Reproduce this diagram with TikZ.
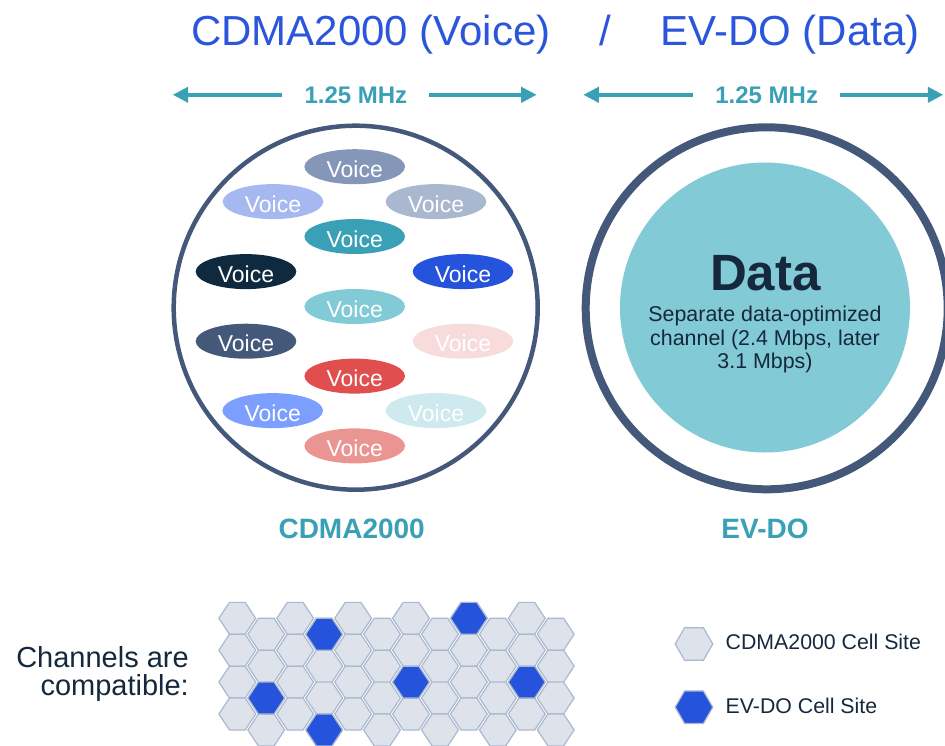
\documentclass[tikz,border=0pt]{standalone}
\usepackage{fontspec}
\setmainfont{Liberation Sans}
\usetikzlibrary{arrows.meta,shapes.geometric}

% palette
\definecolor{titleblue}{RGB}{43,86,220}
\definecolor{tealmid}{RGB}{58,160,181}
\definecolor{inkdark}{RGB}{22,40,60}
\definecolor{ringslate}{RGB}{68,88,122}
\definecolor{datateal}{RGB}{130,202,214}
\definecolor{cellfill}{RGB}{221,226,235}
\definecolor{celledge}{RGB}{170,185,207}
\definecolor{evdoblue}{RGB}{38,83,219}
\definecolor{vcA}{RGB}{132,151,184}
\definecolor{vcB}{RGB}{166,184,240}
\definecolor{vcC}{RGB}{169,184,206}
\definecolor{vcD}{RGB}{58,160,181}
\definecolor{vcE}{RGB}{15,42,63}
\definecolor{vcF}{RGB}{38,83,219}
\definecolor{vcG}{RGB}{130,202,214}
\definecolor{vcH}{RGB}{68,88,122}
\definecolor{vcI}{RGB}{248,220,220}
\definecolor{vcJ}{RGB}{224,78,78}
\definecolor{vcK}{RGB}{123,158,255}
\definecolor{vcL}{RGB}{207,234,239}
\definecolor{vcM}{RGB}{234,149,146}

\begin{document}
\begin{tikzpicture}[x=1pt,y=-1pt,
  titletext/.style={text=titleblue, inner sep=0pt, font=\fontsize{42}{50}\selectfont},
  bwlabel/.style={text=tealmid, inner xsep=22pt, inner ysep=0pt, font=\fontsize{24}{28}\selectfont\bfseries},
  widtharrow/.style={draw=tealmid, line width=4pt, -{Triangle[length=15.5pt,width=15pt]}},
  voice/.style={ellipse, fill=#1, text=white, inner sep=0pt, minimum width=100.6pt, minimum height=35pt,
    text height=21pt, text depth=0pt, font=\fontsize{23}{27}\selectfont},
  sysname/.style={text=tealmid, inner sep=0pt, font=\fontsize{28}{32}\selectfont\bfseries},
  bodytext/.style={text=inkdark, inner sep=0pt},
  gridhex/.pic={\path[pic actions] (-18.4,0) -- (-7.85,-15.95) -- (7.85,-15.95) -- (18.4,0)
    -- (7.85,15.95) -- (-7.85,15.95) -- cycle;},
  cdmacell/.style={fill=cellfill, draw=celledge, line width=1.2pt},
  evdocell/.style={fill=evdoblue, draw=celledge, line width=1.2pt},
  keyhex/.style={regular polygon, regular polygon sides=6, minimum size=37.6pt, inner sep=0pt, line width=1.2pt, draw=celledge}
]
\useasboundingbox (0,0) rectangle (945,745);

% heading
\node[titletext, anchor=base] (headL) at (370.9,45) {CDMA2000 (Voice)};
\node[titletext, anchor=base] (headS) at (605,45) {/};
\node[titletext, anchor=base] (headR) at (790,45) {EV-DO (Data)};

% channel widths
\node[bwlabel] (bwA) at (355.9,94.8) {1.25 MHz};
\coordinate (tipAL) at (172.7,94.8);
\coordinate (tipAR) at (536.7,94.8);
\draw[widtharrow] (bwA.west) -- (tipAL);
\draw[widtharrow] (bwA.east) -- (tipAR);

\node[bwlabel] (bwB) at (766.7,94.8) {1.25 MHz};
\coordinate (tipBL) at (583.3,94.8);
\coordinate (tipBR) at (943.3,94.8);
\draw[widtharrow] (bwB.west) -- (tipBL);
\draw[widtharrow] (bwB.east) -- (tipBR);

% CDMA2000 carrier shared by many voice calls
\node[circle, draw=ringslate, line width=4.5pt, minimum size=364pt, inner sep=0pt] (cdmaring) at (355.7,307.7) {};
\node[voice=vcA] (v1) at (354.7,166.7) {Voice};
\node[voice=vcB] (v2) at (273,201.6) {Voice};
\node[voice=vcC] (v3) at (436,201.6) {Voice};
\node[voice=vcD] (v4) at (354.7,236.5) {Voice};
\node[voice=vcE] (v5) at (246,271.6) {Voice};
\node[voice=vcF] (v6) at (463,271.6) {Voice};
\node[voice=vcG] (v7) at (354.7,306.5) {Voice};
\node[voice=vcH] (v8) at (246,341.2) {Voice};
\node[voice=vcI] (v9) at (463,341.2) {Voice};
\node[voice=vcJ] (v10) at (354.7,376.1) {Voice};
\node[voice=vcK] (v11) at (272.7,410.6) {Voice};
\node[voice=vcL] (v12) at (436,410.6) {Voice};
\node[voice=vcM] (v13) at (354.7,445.9) {Voice};

% EV-DO carrier dedicated to data
\node[circle, draw=ringslate, line width=8pt, minimum size=362pt, inner sep=0pt] (evdoring) at (766.7,308.3) {};
\node[circle, fill=datateal, minimum size=290pt, inner sep=0pt] (datadisk) at (765,307.5) {};
\node[bodytext, anchor=base, font=\fontsize{51}{58}\selectfont\bfseries] (datahead) at (765.3,290) {Data};
% multi-line node: its base anchor sits on the last line
\node[bodytext, anchor=base, align=center, font=\fontsize{21.4}{23.3}\selectfont] (datasub) at (765,368.3)
  {Separate data-optimized\\channel (2.4 Mbps, later\\3.1 Mbps)};

% system names
\node[sysname, anchor=base] (cdmaname) at (351.7,538.3) {CDMA2000};
\node[sysname, anchor=base] (evdoname) at (765,538.3) {EV-DO};

% compatibility note
\node[bodytext, anchor=base east, align=right, font=\fontsize{29}{27.7}\selectfont] (compat) at (189,695)
  {Channels are\\compatible:};

% cell grid
\foreach \c in {0,...,11}{
  \foreach \r in {0,...,3}{
    \pgfmathsetmacro{\hx}{237.3+28.95*\c}
    \pgfmathsetmacro{\hy}{618.3+15.95*mod(\c,2)+31.9*\r}
    \pic[cdmacell] at (\hx,\hy) {gridhex};
  }
}
\foreach \c/\r in {3/0, 8/0, 6/2, 10/2, 1/2, 3/3}{
  \pgfmathsetmacro{\hx}{237.3+28.95*\c}
  \pgfmathsetmacro{\hy}{618.3+15.95*mod(\c,2)+31.9*\r}
  \pic[evdocell] at (\hx,\hy) {gridhex};
}

% key
\node[keyhex, fill=cellfill] (keyA) at (694,644) {};
\node[keyhex, fill=evdoblue] (keyB) at (694,707.2) {};
\node[bodytext, anchor=base west, font=\fontsize{21.3}{25}\selectfont] (keyAtext) at (725.5,649.3) {CDMA2000 Cell Site};
\node[bodytext, anchor=base west, font=\fontsize{21.3}{25}\selectfont] (keyBtext) at (725.5,713.3) {EV-DO Cell Site};
\end{tikzpicture}
\end{document}
